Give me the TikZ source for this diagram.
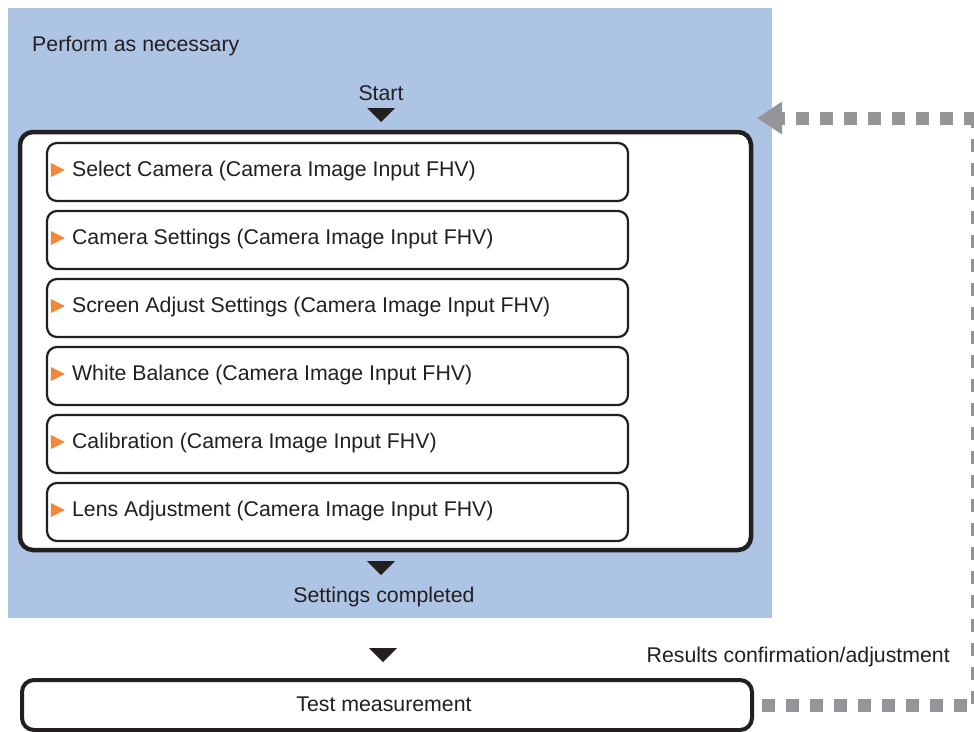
\documentclass[tikz,border=0pt]{standalone}
\usepackage{fontspec}
\setmainfont{Liberation Sans}
\usetikzlibrary{arrows.meta}
\definecolor{panelblue}{RGB}{174,196,229}
\definecolor{inkgray}{RGB}{35,31,32}
\definecolor{fbgray}{RGB}{147,149,152}
\definecolor{markorange}{RGB}{242,135,56}
\tikzset{
  label text/.style={text=inkgray, inner sep=0pt, font=\fontsize{21.3}{25}\selectfont},
  stepbox/.style={draw=inkgray, line width=2.2pt, rounded corners=10pt, fill=white,
    minimum width=581pt, minimum height=58pt, inner sep=0pt},
  feedback/.style={draw=fbgray, line width=13pt, dash pattern=on 13pt off 11pt,
    -{Triangle[length=25pt,width=31pt]}},
}
\begin{document}
\begin{tikzpicture}[x=1pt, y=-1pt]
    \useasboundingbox (0,0) rectangle (974,731);
    % 1. Panel
    \fill[panelblue] (8,8) rectangle (772,618);
    \node[label text, anchor=west] (perform) at (32,46) {Perform as necessary};
    \node[label text] (start) at (381,93) {Start};
    \fill[inkgray] (367,108) -- (395,108) -- (381,122) -- cycle;

    % 2. Steps
    \node[draw=inkgray, line width=4.5pt, rounded corners=13pt, fill=white,
        minimum width=731pt, minimum height=418pt] (flow) at (385.5,341) {};
    \foreach \i/\txt in {1/Select Camera, 2/Camera Settings, 3/Screen Adjust Settings,
        4/White Balance, 5/Calibration, 6/Lens Adjustment} {
      \node[stepbox] (s\i) at (337.5,{172+68*(\i-1)}) {};
      \fill[markorange] ([xshift=5pt,yshift=9pt]s\i.west) -- ++(14,7) -- ++(-14,7) -- cycle;
      \node[label text, anchor=west] (t\i) at ([xshift=26pt,yshift=1pt]s\i.west)
        {\txt{} (Camera Image Input FHV)};
    }
    \fill[inkgray] (367,561) -- (395,561) -- (381,575) -- cycle;
    \node[label text] (done) at (384,597) {Settings completed};

    % 3. Test measurement
    \fill[inkgray] (369,648) -- (397,648) -- (383,662) -- cycle;
    \node[draw=inkgray, line width=4pt, rounded corners=12pt, fill=white,
        minimum width=730pt, minimum height=50pt, label text] (test) at (387,705) {};
    \node[label text] (testtxt) at (384,704) {Test measurement};
    \node[label text, anchor=east] (confirm) at (950,657) {Results confirmation/adjustment};

    % 4. Feedback loop
    \coordinate (fbtop) at (977,118);
    \coordinate (fbin) at (757,118);
    \draw[feedback, -] ([xshift=8pt]test.east) -- (fbtop |- test.east) -- ([yshift=8pt]fbtop);
    \draw[feedback] (fbtop) -- (fbin);
\end{tikzpicture}
\end{document}
